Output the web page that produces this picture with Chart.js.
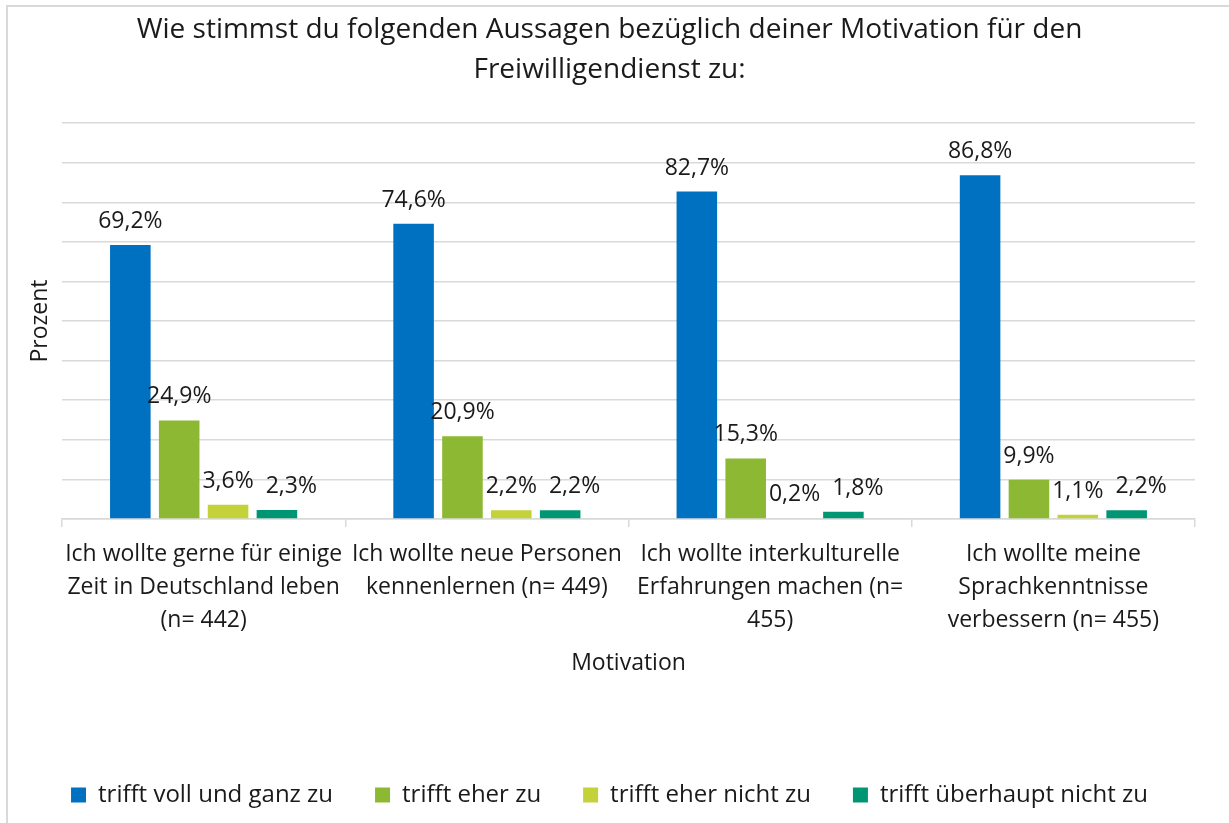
<!DOCTYPE html>
<html lang="de">
<head>
<meta charset="utf-8">
<title>Motivation Freiwilligendienst</title>
<script src="https://cdn.jsdelivr.net/npm/chart.js@4.4.1/dist/chart.umd.min.js"></script>
<style>
    html, body { margin: 0; padding: 0; background: #fff; overflow: hidden; }
    .frame {
        position: absolute; left: 6px; top: 5px;
        width: 1260px; height: 860px;
        border: 2px solid #d9d9d9;
    }
    .wrap { position: absolute; left: 0; top: 0; width: 1229px; height: 823px; }
</style>
</head>
<body>
<div class="frame"></div>
<div class="wrap"><canvas id="chart"></canvas></div>
<script>
const categories = [
    ['Ich wollte gerne für einige', 'Zeit in Deutschland leben', '(n= 442)'],
    ['Ich wollte neue Personen', 'kennenlernen (n= 449)'],
    ['Ich wollte interkulturelle', 'Erfahrungen machen (n=', '455)'],
    ['Ich wollte meine', 'Sprachkenntnisse', 'verbessern (n= 455)']
];
const seriesNames = ['trifft voll und ganz zu', 'trifft eher zu', 'trifft eher nicht zu', 'trifft überhaupt nicht zu'];
const vollUndGanz = [69.2, 74.6, 82.7, 86.8];
const eherZu = [24.9, 20.9, 15.3, 9.9];
const eherNicht = [3.6, 2.2, 0.2, 1.1];
const ueberhauptNicht = [2.3, 2.2, 1.8, 2.2];
const colors = ['#0070c0', '#8cb833', '#c4d23a', '#009673'];

const FONT = "'Open Sans', 'Noto Sans', sans-serif";
const TEXT = '#1a1a1a';

// value labels above each bar, nudged right when they would collide (like Excel)
const valueLabels = {
    id: 'valueLabels',
    afterDatasetsDraw(chart) {
        const { ctx } = chart;
        const n = chart.data.labels.length;
        ctx.save();
        ctx.font = `23px ${FONT}`;
        ctx.fillStyle = TEXT;
        ctx.textAlign = 'center';
        ctx.textBaseline = 'bottom';
        for (let j = 0; j < n; j++) {
            let prev = null;
            chart.data.datasets.forEach((ds, i) => {
                const bar = chart.getDatasetMeta(i).data[j];
                const txt = ds.data[j].toFixed(1).replace('.', ',') + '%';
                const w = ctx.measureText(txt).width;
                let x = bar.x;
                const y = bar.y - 12;
                if (prev && Math.abs(prev.y - y) < 26 && x - w / 2 < prev.right + 12) {
                    x = prev.right + 12 + w / 2;
                }
                ctx.fillText(txt, x, y);
                prev = { right: x + w / 2, y };
            });
        }
        ctx.restore();
    }
};

const rows = [vollUndGanz, eherZu, eherNicht, ueberhauptNicht];

new Chart(document.getElementById('chart'), {
    type: 'bar',
    data: {
        labels: categories,
        datasets: rows.map((vals, i) => ({
            label: seriesNames[i],
            data: vals,
            backgroundColor: colors[i],
            borderWidth: 0,
            categoryPercentage: 0.69,
            barPercentage: 0.83
        }))
    },
    options: {
        responsive: true,
        maintainAspectRatio: false,
        animation: false,
        layout: { padding: { left: 24, right: 34, top: 0, bottom: 6 } },
        plugins: {
            title: {
                display: true,
                text: ['Wie stimmst du folgenden Aussagen bezüglich deiner Motivation für den', 'Freiwilligendienst zu:'],
                color: TEXT,
                font: { family: FONT, size: 28, weight: 'normal', lineHeight: 1.43 },
                padding: { top: 10, bottom: 33 }
            },
            legend: {
                position: 'bottom',
                labels: {
                    color: TEXT,
                    font: { family: FONT, size: 24 },
                    boxWidth: 15,
                    boxHeight: 15,
                    padding: 42
                }
            },
            tooltip: { enabled: false }
        },
        scales: {
            x: {
                grid: { drawOnChartArea: false, drawTicks: true, tickLength: 8, offset: true, color: '#d9d9d9', lineWidth: 1.5 },
                border: { color: '#d9d9d9', width: 1.5 },
                ticks: {
                    color: TEXT,
                    font: { family: FONT, size: 23, lineHeight: 1.43 },
                    maxRotation: 0, minRotation: 0, autoSkip: false,
                    padding: 11
                },
                title: {
                    display: true,
                    text: 'Motivation',
                    color: TEXT,
                    font: { family: FONT, size: 23 },
                    padding: { top: 0, bottom: 64 }
                },
                afterFit: (s) => { s.height = 222; }
            },
            y: {
                min: 0,
                max: 100,
                ticks: { display: false, stepSize: 10 },
                grid: { color: '#d9d9d9', lineWidth: 1.5, drawTicks: false },
                border: { display: false },
                title: {
                    display: true,
                    text: 'Prozent',
                    color: TEXT,
                    font: { family: FONT, size: 23 },
                    padding: { top: 3, bottom: 0 }
                },
                afterFit: (s) => { s.width = 38; }
            }
        }
    },
    plugins: [valueLabels]
});
</script>
</body>
</html>
